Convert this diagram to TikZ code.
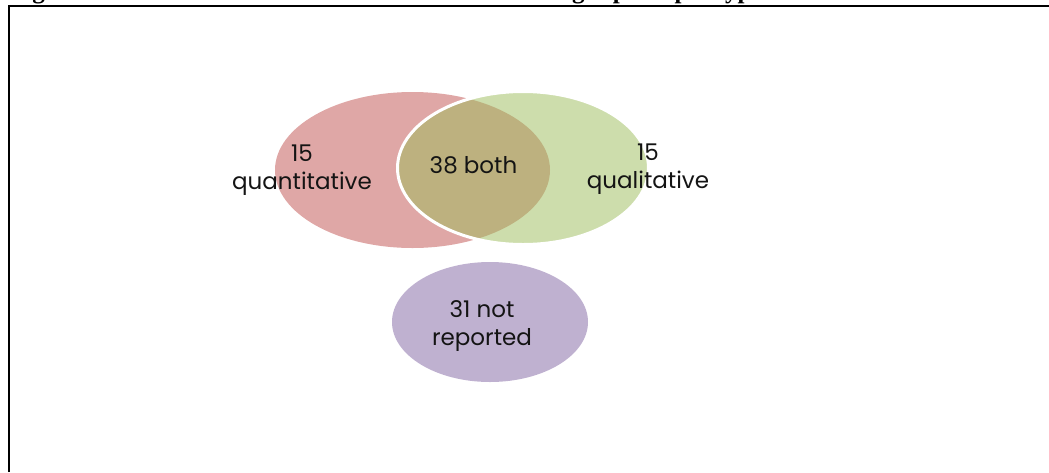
\documentclass[tikz,border=0pt]{standalone}
\usepackage{fontspec}
\setmainfont{Liberation Serif}
\newfontfamily\vennfont{Poppins}
\definecolor{setred}{HTML}{C0504D}
\definecolor{setgreen}{HTML}{9BBB59}
\definecolor{setpurple}{HTML}{8064A2}
\definecolor{labelink}{HTML}{141414}
\begin{document}
\begin{tikzpicture}[x=1pt,y=-1pt,
  setlabel/.style={inner sep=0pt, align=center, text=labelink,
    font=\vennfont\fontsize{23}{28}\selectfont},
  frameline/.style={line width=1.3pt, black}]
\useasboundingbox (0,0) rectangle (1049,472);

% caption line, cut by the top edge of the frame area
\begin{scope}
  \clip (0,0) rectangle (1049,472);
  \node[anchor=base west, inner sep=0pt,
        font=\bfseries\fontsize{25}{30}\selectfont] (caption) at (10,-1.5)
    {Figure 5: Number of evaluation and other monitoring reports per type of data used};
\end{scope}

% open frame: left and top borders
\draw[frameline] (9,472) -- (9,6) -- (1049,6);

% Venn sets
\fill[setred, opacity=0.5] (412.5,170) ellipse [x radius=137.5pt, y radius=78pt];
\path[fill=setgreen, fill opacity=0.5, draw=white, line width=3pt]
  (523,168) ellipse [x radius=125.5pt, y radius=76.5pt];
\fill[setpurple, opacity=0.5] (490,322) ellipse [x radius=98pt, y radius=60pt];

% set labels
\node[setlabel] (quant) at (302,170) {15\\quantitative};
\node[setlabel, anchor=base] (both) at (473.5,173) {38 both};
\node[setlabel] (qual) at (648,169) {15\\qualitative};
\node[setlabel] (none) at (482,326.5) {31 not\\reported};
\end{tikzpicture}
\end{document}
